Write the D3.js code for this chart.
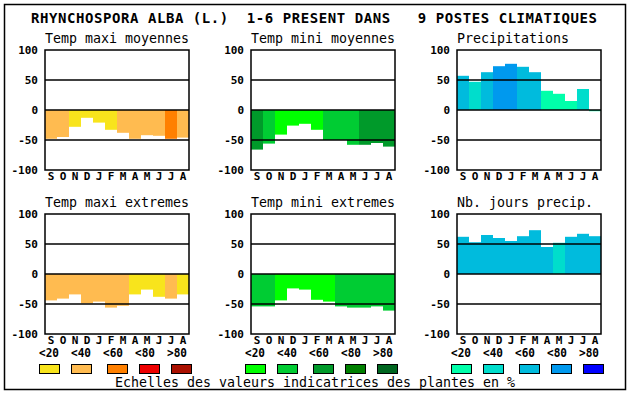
<!DOCTYPE html>
<html>
<head>
<meta charset="utf-8">
<script src="https://cdn.jsdelivr.net/npm/d3@7"></script>
<style>
  body { margin: 0; background: #fff; }
  text { font-family: "DejaVu Sans Mono", monospace; fill: #000; white-space: pre; }
</style>
</head>
<body>
<div id="chart"></div>
<script>
// months of the chart (september -> august)
var months = ["S", "O", "N", "D", "J", "F", "M", "A", "M", "J", "J", "A"];
var classLabels = ["<20", "<40", "<60", "<80", ">80"];
var yTicks = [-100, -50, 0, 50, 100];

// colour scales for each column
var warmColors = ["#f8e41c", "#ffbb50", "#ff8000", "#ee0000", "#aa1000"];
var greenColors = ["#00ff00", "#00cc33", "#009a2a", "#008000", "#006620"];
var blueColors = ["#00ffaa", "#00ddcc", "#00bbdd", "#0099ee", "#0000ff"];

// values per panel + class index (0..4) per month
var maxiMoyValues = [-48, -45, -28, -13, -21, -33, -38, -48, -42, -43, -48, -46];
var maxiMoyClass = [1, 1, 0, 0, 0, 0, 1, 1, 1, 1, 2, 1];
var miniMoyValues = [-66, -56, -41, -26, -23, -33, -50, -50, -58, -58, -55, -61];
var miniMoyClass = [2, 1, 0, 0, 0, 0, 1, 1, 1, 2, 2, 2];
var precipValues = [57, 47, 63, 73, 77, 72, 63, 32, 27, 15, 35, -2];
var precipClass = [2, 1, 2, 3, 3, 2, 2, 0, 0, 0, 1, 0];
var maxiExtValues = [-44, -41, -34, -49, -46, -56, -53, -34, -26, -38, -41, -34];
var maxiExtClass = [1, 1, 1, 1, 1, 1, 1, 0, 0, 0, 1, 0];
var miniExtValues = [-54, -54, -44, -24, -26, -43, -46, -54, -56, -56, -54, -61];
var miniExtClass = [1, 1, 0, 0, 0, 0, 0, 1, 1, 1, 1, 1];
var joursValues = [62, 53, 65, 60, 55, 63, 73, 45, 52, 62, 67, 63];
var joursClass = [2, 2, 2, 2, 2, 2, 2, 2, 1, 2, 2, 2];

var titleText = "RHYNCHOSPORA ALBA (L.)  1-6 PRESENT DANS   9 POSTES CLIMATIQUES";
var captionText = "Echelles des valeurs indicatrices des plantes en %";

var panels = [
  { title: "Temp maxi moyennes", values: maxiMoyValues, cls: maxiMoyClass, colors: warmColors, col: 0, row: 0 },
  { title: "Temp mini moyennes", values: miniMoyValues, cls: miniMoyClass, colors: greenColors, col: 1, row: 0 },
  { title: "Precipitations", values: precipValues, cls: precipClass, colors: blueColors, col: 2, row: 0 },
  { title: "Temp maxi extremes", values: maxiExtValues, cls: maxiExtClass, colors: warmColors, col: 0, row: 1 },
  { title: "Temp mini extremes", values: miniExtValues, cls: miniExtClass, colors: greenColors, col: 1, row: 1 },
  { title: "Nb. jours precip.", values: joursValues, cls: joursClass, colors: blueColors, col: 2, row: 1 }
];

var width = 630, height = 394;
var colLeft = [45, 251, 457];
var rowTop = [50, 214];
var plotW = 144, plotH = 120;

var svg = d3.select("#chart")
  .append("svg")
    .attr("width", width)
    .attr("height", height);

// outer frame
svg.append("rect")
  .attr("x", 4.5).attr("y", 4.5)
  .attr("width", 621).attr("height", 385)
  .attr("fill", "none")
  .attr("stroke", "#000")
  .attr("stroke-width", 1.5);

svg.append("text")
  .attr("x", 31).attr("y", 23)
  .attr("xml:space", "preserve")
  .attr("textLength", 566)
  .attr("lengthAdjust", "spacing")
  .style("font-size", "14px")
  .style("font-weight", "bold")
  .text(titleText);

panels.forEach(function(p) {
  var left = colLeft[p.col], top = rowTop[p.row];

  var x = d3.scaleBand()
    .domain(d3.range(months.length))
    .range([left, left + plotW]);

  var y = d3.scaleLinear()
    .domain([-100, 100])
    .range([top + plotH, top]);

  var g = svg.append("g");

  g.append("text")
    .attr("x", left).attr("y", top - 7)
    .attr("textLength", p.title.length * 8)
    .attr("lengthAdjust", "spacing")
    .style("font-size", "13.3px")
    .text(p.title);

  // bars, from 0 to the value
  g.selectAll("rect.bar")
    .data(p.values)
    .enter()
    .append("rect")
      .attr("class", "bar")
      .attr("x", function(d, i) { return x(i); })
      .attr("width", x.bandwidth())
      .attr("y", function(d) { return Math.min(y(d), y(0)); })
      .attr("height", function(d) { return Math.abs(y(d) - y(0)); })
      .attr("fill", function(d, i) { return p.colors[p.cls[i]]; });

  // horizontal lines at -50, 0, 50
  g.selectAll("line.grid")
    .data([-50, 0, 50])
    .enter()
    .append("line")
      .attr("x1", left).attr("x2", left + plotW)
      .attr("y1", function(d) { return y(d); })
      .attr("y2", function(d) { return y(d); })
      .attr("stroke", "#000")
      .attr("stroke-width", 1.5);

  g.append("rect")
    .attr("x", left).attr("y", top)
    .attr("width", plotW).attr("height", plotH)
    .attr("fill", "none")
    .attr("stroke", "#000")
    .attr("stroke-width", 1.5);

  g.selectAll("text.ytick")
    .data(yTicks)
    .enter()
    .append("text")
      .attr("class", "ytick")
      .attr("x", left - 7)
      .attr("y", function(d) { return y(d) + 4; })
      .attr("text-anchor", "end")
      .style("font-size", "11px")
      .style("font-weight", "bold")
      .text(function(d) { return d; });

  g.selectAll("text.month")
    .data(months)
    .enter()
    .append("text")
      .attr("class", "month")
      .attr("x", function(d, i) { return x(i) + x.bandwidth() / 2; })
      .attr("y", top + plotH + 10)
      .attr("text-anchor", "middle")
      .style("font-size", "11px")
      .style("font-weight", "bold")
      .text(function(d) { return d; });

  // class legend under the bottom row
  if (p.row == 1) {
    var labelX = [-6, 26, 58, 90, 122];
    var boxX = [-6, 26, 62, 94, 126];

    g.selectAll("text.cls")
      .data(classLabels)
      .enter()
      .append("text")
        .attr("class", "cls")
        .attr("x", function(d, i) { return left + labelX[i]; })
        .attr("y", top + plotH + 23)
        .attr("textLength", 20)
        .attr("lengthAdjust", "spacingAndGlyphs")
        .style("font-size", "11.5px")
        .style("font-weight", "bold")
        .text(function(d) { return d; });

    g.selectAll("rect.box")
      .data(p.colors)
      .enter()
      .append("rect")
        .attr("class", "box")
        .attr("x", function(d, i) { return left + boxX[i] + 0.5; })
        .attr("y", 364.5)
        .attr("width", 20).attr("height", 9)
        .attr("fill", function(d) { return d; })
        .attr("stroke", "#000")
        .attr("stroke-width", 1);
  }
});

svg.append("text")
  .attr("x", 115).attr("y", 387)
  .attr("textLength", 400)
  .attr("lengthAdjust", "spacing")
  .style("font-size", "13.3px")
  .text(captionText);
</script>
</body>
</html>
